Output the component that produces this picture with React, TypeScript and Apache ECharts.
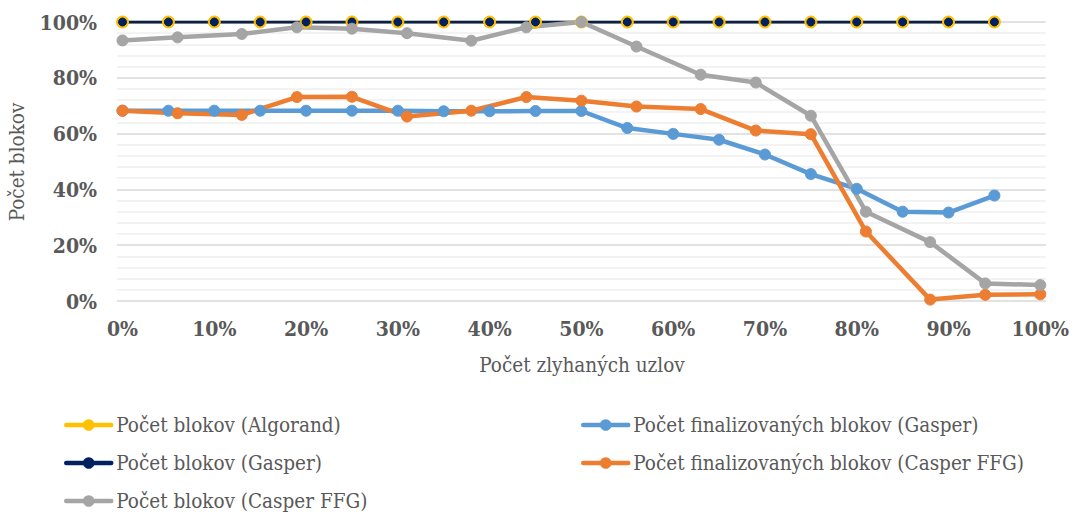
import React, { useEffect, useRef } from "react";
import * as echarts from "echarts";

// X positions (% of failed nodes)
const gasperX = [0, 5, 10, 15, 20, 25, 30, 35, 40, 45, 50, 55, 60, 65, 70, 75, 80, 85, 90, 95];
const casperX = [0, 6, 13, 19, 25, 31, 38, 44, 50, 56, 63, 69, 75, 81, 88, 94, 100];

// Series values (%)
const algorandBlocks = [100, 100, 100, 100, 100, 100, 100, 100, 100, 100, 100, 100, 100, 100, 100, 100, 100, 100, 100, 100];
const gasperBlocks = [100, 100, 100, 100, 100, 100, 100, 100, 100, 100, 100, 100, 100, 100, 100, 100, 100, 100, 100, 100];
const gasperFinal = [68.2, 68.2, 68.2, 68.2, 68.2, 68.2, 68.2, 68.0, 68.0, 68.1, 68.1, 62.0, 59.9, 57.8, 52.5, 45.5, 40.2, 32.0, 31.7, 37.8];
const casperFinal = [68.2, 67.3, 66.7, 73.1, 73.2, 66.1, 68.2, 73.1, 71.8, 69.7, 68.8, 61.1, 59.8, 24.9, 0.5, 2.2, 2.4];
const casperBlocks = [93.4, 94.5, 95.7, 98.1, 97.6, 96.0, 93.3, 98.1, 100, 91.2, 81.1, 78.3, 66.4, 32.0, 21.1, 6.3, 5.7];

const xTicks = [0, 10, 20, 30, 40, 50, 60, 70, 80, 90, 100];

const names = {
  algorand: "Počet blokov (Algorand)",
  gasperFin: "Počet finalizovaných blokov (Gasper)",
  gasper: "Počet blokov (Gasper)",
  casperFin: "Počet finalizovaných blokov (Casper FFG)",
  casper: "Počet blokov (Casper FFG)",
};

const FONT = "DejaVu Serif Condensed";
const REG_SIZE = 20.5;
const TICK_SIZE = 21;
const TXT = "#595959";

const pairs = (xs: number[], ys: number[]) => xs.map((x, i) => [x, ys[i]]);

export default function App() {
  const ref = useRef<HTMLDivElement>(null);
  useEffect(() => {
    if (!ref.current) return;
    const chart = echarts.init(ref.current, undefined, { renderer: "svg" });
    const lineSeries = (name: string, data: number[][], color: string, width: number, size: number) => ({
      name,
      type: "line",
      data,
      symbol: "circle",
      symbolSize: size,
      showSymbol: true,
      lineStyle: { color, width, cap: "round", join: "round" },
      itemStyle: { color, borderColor: color, borderWidth: 1 },
      emphasis: { disabled: true },
    });
    const legendCommon = {
      orient: "vertical",
      top: 414,
      padding: 0,
      itemWidth: 45,
      itemHeight: 12,
      itemGap: 16,
      lineStyle: { width: 4.5, cap: "round" },
      textStyle: { color: TXT, fontFamily: FONT, fontSize: REG_SIZE, lineHeight: 22 },
    };
    chart.setOption({
      animation: false,
      backgroundColor: "#ffffff",
      grid: { left: 117, top: 22, width: 930, height: 279, containLabel: false },
      xAxis: {
        type: "value",
        min: -0.6,
        max: 100.6,
        axisLine: { show: false },
        axisTick: { show: false },
        splitLine: { show: false },
        axisLabel: {
          customValues: xTicks,
          formatter: "{value}%",
          margin: 17,
          color: TXT,
          fontFamily: FONT,
          fontWeight: "bold",
          fontSize: TICK_SIZE,
        },
      },
      yAxis: {
        type: "value",
        min: 0,
        max: 100,
        interval: 20,
        axisLine: { show: false },
        axisTick: { show: false },
        axisLabel: {
          formatter: "{value}%",
          margin: 20,
          color: TXT,
          fontFamily: FONT,
          fontWeight: "bold",
          fontSize: TICK_SIZE,
        },
        splitLine: { show: true, lineStyle: { color: "#d9d9d9", width: 1.5 } },
        minorTick: { show: false, splitNumber: 5 },
        minorSplitLine: { show: true, lineStyle: { color: "#efefef", width: 1.5 } },
      },
      legend: [
        { ...legendCommon, data: [names.algorand, names.gasper, names.casper], left: 64 },
        { ...legendCommon, data: [names.gasperFin, names.casperFin], left: 581 },
      ],
      graphic: [
        {
          type: "text",
          x: 17,
          y: 162,
          rotation: Math.PI / 2,
          style: {
            text: "Počet blokov",
            fontFamily: FONT,
            fontSize: REG_SIZE,
            fill: TXT,
            align: "center",
            verticalAlign: "middle",
          },
        },
        {
          type: "text",
          x: 582,
          y: 365,
          style: {
            text: "Počet zlyhaných uzlov",
            fontFamily: FONT,
            fontSize: REG_SIZE,
            fill: TXT,
            align: "center",
            verticalAlign: "middle",
          },
        },
      ],
      series: [
        lineSeries(names.algorand, pairs(gasperX, algorandBlocks), "#FFC000", 3, 12),
        lineSeries(names.gasperFin, pairs(gasperX, gasperFinal), "#5B9BD5", 4.5, 11),
        lineSeries(names.gasper, pairs(gasperX, gasperBlocks), "#002060", 3, 8),
        lineSeries(names.casperFin, pairs(casperX, casperFinal), "#ED7D31", 4.5, 11),
        lineSeries(names.casper, pairs(casperX, casperBlocks), "#A5A5A5", 4.5, 11),
      ],
    });
    return () => chart.dispose();
  }, []);
  return (
    <div
      ref={ref}
      style={{ position: "fixed", left: 0, top: 0, width: 1072, height: 512, background: "#fff" }}
    />
  );
}
